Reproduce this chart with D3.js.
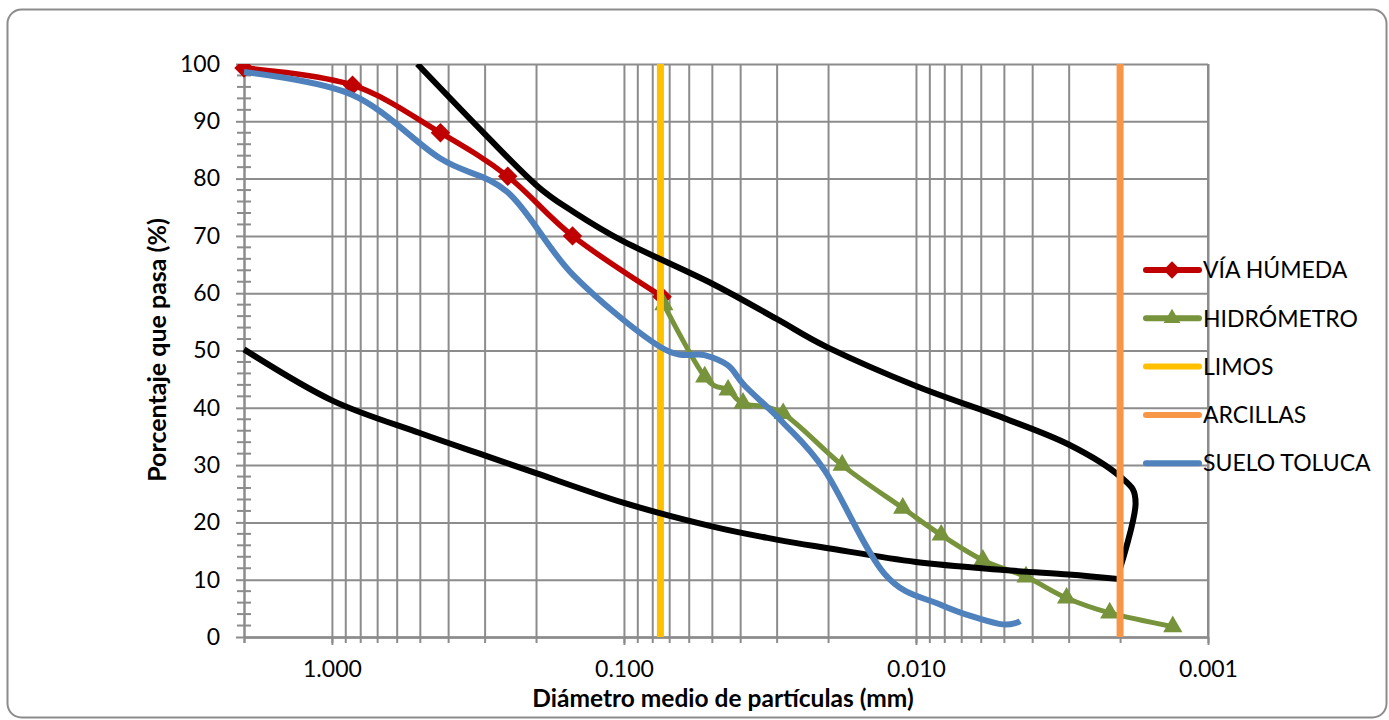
<!DOCTYPE html>
<html>
<head>
<meta charset="utf-8">
<script src="https://cdn.jsdelivr.net/npm/d3@7"></script>
<style>
body{margin:0;background:#fff;}
text{font-family:Lato,"DejaVu Sans",sans-serif;fill:#000;}
.grid line{stroke:#8c8c8c;stroke-width:2;}
.grid path{display:none;}
.axis path,.axis line{stroke:#8c8c8c;stroke-width:2;}
</style>
</head>
<body>
<div id="chart"></div>
<script>
// granulometria: datos (diametro en mm, % que pasa)

var viaHumedaD=[2.0,0.85,0.425,0.25,0.15,0.074];
var viaHumedaP=[99.3,96.3,88.0,80.4,70.0,59.4];

var hidrometroD=[0.073,0.0529,0.044,0.0391,0.0285,0.0179,0.0111,0.0082,0.0059,0.0042,0.00305,0.00217,0.00132];
var hidrometroP=[58.0,45.4,43.1,40.8,39.0,30.0,22.5,17.8,13.4,10.5,6.8,4.2,1.8];

var sueloTolucaD=[2.0,0.85,0.425,0.25,0.15,0.075,0.053,0.044,0.0385,0.0285,0.0205,0.0128,0.0082,0.0052,0.0044];
var sueloTolucaP=[98.6,94.6,83.5,77.6,63.3,50.6,49.2,47.4,43.8,37.4,29.0,11.0,5.6,2.3,2.8];

// huso (curvas negras, sin leyenda)
var husoSuperiorD=[0.51,0.3,0.2,0.15,0.1,0.05,0.03,0.02,0.01,0.005,0.003,0.002,0.00177,0.002];
var husoSuperiorP=[100,87.8,78.9,74.3,69.0,61.7,55.5,50.5,43.8,38.2,33.6,28.0,23.3,12.0];
var husoInferiorD=[0.002,0.003,0.005,0.01,0.02,0.03,0.05,0.1,0.2,0.3,0.5,1.0,2.0];
var husoInferiorP=[10.1,10.9,11.7,13.1,15.5,17.0,19.3,23.4,28.6,31.7,35.6,41.3,50.2];

var limosD=0.075;
var arcillasD=0.002;

var xTickValues=[1,0.1,0.01,0.001];
var yTickValues=[0,10,20,30,40,50,60,70,80,90,100];

var legendNames=["VÍA HÚMEDA","HIDRÓMETRO","LIMOS","ARCILLAS","SUELO TOLUCA"];

//Step 1: dimensions
var svgWidth=1389;
var svgHeight=720;

var margin={
    top:64,
    right:181,
    bottom:83,
    left:244
};

var width=svgWidth-margin.left-margin.right;
var height=svgHeight-margin.top-margin.bottom;

var colors={
    red:"#C00000",
    green:"#77933C",
    yellow:"#FFC000",
    orange:"#F79646",
    blue:"#4F81BD",
    black:"#000000"
};

var svg=d3.select("#chart")
    .append("svg")
    .attr("width",svgWidth)
    .attr("height",svgHeight);

// marco exterior redondeado
svg.append("rect")
    .attr("x",7.5)
    .attr("y",9.5)
    .attr("width",1379)
    .attr("height",708)
    .attr("rx",14)
    .attr("fill","#fff")
    .attr("stroke","#8c8c8c")
    .attr("stroke-width",2);

var chartgroup=svg.append("g")
    .attr("transform",`translate(${margin.left},${margin.top})`);

//Step 2: scales (eje x invertido, logaritmico)
var xLogScale=d3.scaleLog()
    .domain([2,0.001])
    .range([0,width]);

var yLinearScale=d3.scaleLinear()
    .domain([0,100])
    .range([height,0]);

// lineas secundarias del eje log: 1..9 x 10^k
var xMinorValues=[];
[-3,-2,-1,0].forEach(function(k){
    for (var m=1;m<=9;m++){
        var v=m*Math.pow(10,k);
        if (v>=0.001 && v<=2) xMinorValues.push(v);
    }
});
var yMinorValues=d3.range(0,101,2).filter(d=>d%10!==0);

//gridlines
chartgroup.append("g")
    .attr("class","grid")
    .call(d3.axisLeft(yLinearScale).tickValues(yTickValues).tickSize(-width).tickFormat(""));

chartgroup.append("g")
    .attr("class","grid")
    .attr("transform",`translate(0,${height})`)
    .call(d3.axisBottom(xLogScale).tickValues(xMinorValues).tickSize(height).tickFormat(""))
    .selectAll("line")
    .attr("y2",-height);

// right border of plot
chartgroup.append("line")
    .attr("x1",width).attr("x2",width)
    .attr("y1",0).attr("y2",height)
    .attr("stroke","#8c8c8c")
    .attr("stroke-width",2);

//axes
var bottomAxis=d3.axisBottom(xLogScale)
    .tickValues(xTickValues)
    .tickFormat(d3.format(".3f"))
    .tickSize(8)
    .tickSizeOuter(0)
    .tickPadding(16);

var xAxis=chartgroup.append("g")
    .attr("class","axis")
    .attr("transform",`translate(0,${height})`)
    .call(bottomAxis);

chartgroup.append("g")
    .attr("class","axis")
    .attr("transform",`translate(0,${height})`)
    .call(d3.axisBottom(xLogScale).tickValues(xMinorValues.concat([2])).tickSize(6).tickSizeOuter(0).tickFormat(""));

var leftAxis=d3.axisLeft(yLinearScale)
    .tickValues(yTickValues)
    .tickSize(8)
    .tickSizeOuter(0)
    .tickPadding(16);

chartgroup.append("g")
    .attr("class","axis")
    .call(leftAxis);

// minor ticks del eje y (cruzan el eje)
chartgroup.append("g")
    .selectAll("line")
    .data(yMinorValues)
    .enter()
    .append("line")
    .attr("x1",-7)
    .attr("x2",7)
    .attr("y1",d=>yLinearScale(d))
    .attr("y2",d=>yLinearScale(d))
    .attr("stroke","#8c8c8c")
    .attr("stroke-width",2);

chartgroup.selectAll(".axis text")
    .style("font-size","23px")
    .style("font-family","Lato, sans-serif")
    .attr("fill","#000");

//clip
chartgroup.append("clipPath")
    .attr("id","plotclip")
    .append("rect")
    .attr("x",-10)
    .attr("y",0)
    .attr("width",width+40)
    .attr("height",height+10);

var plot=chartgroup.append("g").attr("clip-path","url(#plotclip)");

var smoothLine=d3.line()
    .x(d=>xLogScale(d[0]))
    .y(d=>yLinearScale(d[1]))
    .curve(d3.curveCardinal.tension(0));

function pairs(ds,ps){
    return ds.map((d,i)=>[d,ps[i]]);
}

var husoSuperior=pairs(husoSuperiorD,husoSuperiorP);
var husoInferior=pairs(husoInferiorD,husoInferiorP);
var viaHumeda=pairs(viaHumedaD,viaHumedaP);
var hidrometro=pairs(hidrometroD,hidrometroP);
var sueloToluca=pairs(sueloTolucaD,sueloTolucaP);

// VIA HUMEDA
plot.append("path")
    .datum(viaHumeda)
    .attr("d",smoothLine)
    .attr("fill","none")
    .attr("stroke",colors.red)
    .attr("stroke-width",5.5);

var diamond=d3.symbol().type(d3.symbolSquare).size(150);
plot.selectAll(".diamond")
    .data(viaHumeda)
    .enter()
    .append("path")
    .attr("d",diamond)
    .attr("transform",d=>`translate(${xLogScale(d[0])},${yLinearScale(d[1])}) rotate(45)`)
    .attr("fill",colors.red)
    .attr("stroke",colors.red)
    .attr("stroke-width",1.5);

// HIDROMETRO
plot.append("path")
    .datum(hidrometro)
    .attr("d",smoothLine)
    .attr("fill","none")
    .attr("stroke",colors.green)
    .attr("stroke-width",5);

var triangle=d3.symbol().type(d3.symbolTriangle).size(120);
plot.selectAll(".tri")
    .data(hidrometro)
    .enter()
    .append("path")
    .attr("d",triangle)
    .attr("transform",d=>`translate(${xLogScale(d[0])},${yLinearScale(d[1])})`)
    .attr("fill",colors.green)
    .attr("stroke",colors.green)
    .attr("stroke-width",1.5);

// LIMOS
plot.append("line")
    .attr("x1",xLogScale(limosD)).attr("x2",xLogScale(limosD))
    .attr("y1",yLinearScale(0)).attr("y2",yLinearScale(100))
    .attr("stroke",colors.yellow)
    .attr("stroke-width",7);

// black envelope (upper and lower)
[husoSuperior,husoInferior].forEach(function(serie){
    plot.append("path")
        .datum(serie)
        .attr("d",smoothLine)
        .attr("fill","none")
        .attr("stroke",colors.black)
        .attr("stroke-width",6);
});

// ARCILLAS
plot.append("line")
    .attr("x1",xLogScale(arcillasD)).attr("x2",xLogScale(arcillasD))
    .attr("y1",yLinearScale(0)).attr("y2",yLinearScale(100))
    .attr("stroke",colors.orange)
    .attr("stroke-width",7);

// SUELO TOLUCA
plot.append("path")
    .datum(sueloToluca)
    .attr("d",smoothLine)
    .attr("fill","none")
    .attr("stroke",colors.blue)
    .attr("stroke-width",6);

//axis titles
chartgroup.append("text")
    .attr("transform",`translate(${166-margin.left},${350-margin.top}) rotate(-90)`)
    .attr("text-anchor","middle")
    .style("font-size","25px")
    .style("font-weight","bold")
    .text("Porcentaje que pasa (%)");

chartgroup.append("text")
    .attr("x",723-margin.left)
    .attr("y",707-margin.top)
    .attr("text-anchor","middle")
    .style("font-size","24.5px")
    .style("font-weight","bold")
    .text("Diámetro medio de partículas (mm)");

//legend
var legendColors=[colors.red,colors.green,colors.yellow,colors.orange,colors.blue];
var legend=svg.append("g")
    .attr("transform","translate(1143,270)");

var items=legend.selectAll("g")
    .data(legendNames)
    .enter()
    .append("g")
    .attr("transform",(d,i)=>`translate(0,${i*48.3})`);

items.append("line")
    .attr("x1",3).attr("x2",56)
    .attr("y1",0).attr("y2",0)
    .attr("stroke",(d,i)=>legendColors[i])
    .attr("stroke-width",6)
    .attr("stroke-linecap","round");

items.filter((d,i)=>i===0)
    .append("path")
    .attr("d",diamond)
    .attr("transform","translate(29,0) rotate(45)")
    .attr("fill",colors.red);

items.filter((d,i)=>i===1)
    .append("path")
    .attr("d",triangle)
    .attr("transform","translate(29,0)")
    .attr("fill",colors.green);

items.append("text")
    .attr("x",60)
    .attr("dy","0.36em")
    .style("font-size","23px")
    .text(d=>d);
</script>
</body>
</html>
